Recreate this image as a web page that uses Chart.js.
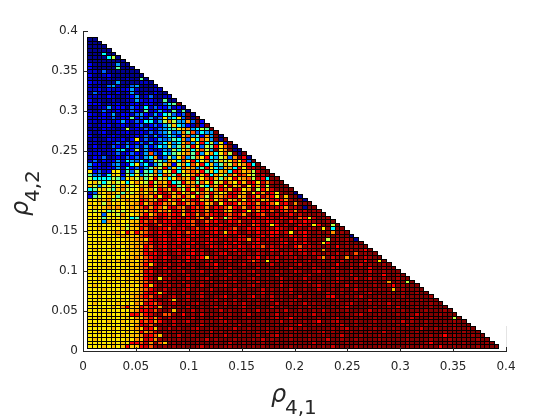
<!DOCTYPE html>
<html>
<head>
<meta charset="utf-8">
<script src="https://cdn.jsdelivr.net/npm/chart.js@4/dist/chart.umd.min.js"></script>
<style>
  html, body { margin: 0; background: #fff; }
  canvas { display: block; }
</style>
</head>
<body>
<canvas id="heat" width="560" height="420"></canvas>
<script>
// Ticks
const xTicks = [0, 0.05, 0.1, 0.15, 0.2, 0.25, 0.3, 0.35, 0.4];
const yTicks = [0, 0.05, 0.1, 0.15, 0.2, 0.25, 0.3, 0.35, 0.4];

// Cell grid
const cellStart = 0.0041;
const cellStepX = 0.004415;
const cellStepY = 0.00446;

// One colour level per character, 0 = dark blue ... f = dark red (jet)
const levelCodes = '0123456789abcdef';
const levelColors = ['#00008f', '#0000c4', '#0000ff', '#0060ff', '#00a0ff', '#00ffff', '#60ff9f', '#bfff40',
  '#ffe800', '#ffc000', '#ff9000', '#ff5000', '#ff0000', '#cf0000', '#a00000', '#800000'];

// Rows from the top of the triangle down, left to right
const rowLevels = [
  '00', '000', '0000', '00000', '000500', '0000570', '00000000', '200000400', '2000006000',
  '1103000000 0',
  '2001200000 00',
  '1010100010 060',
  '2110004000 0110',
  '1010341003 40001',
  '1120211124 100011',
  '0311102014 1010200',
  '1110210012 40130011',
  '2010010011 421210600',
  '2220112012 2022013 56f',
  '0011412203 2151322412 0',
  '1013112013 2061242161 60',
  '2102140221 3421425632 3f0',
  '1122131226 2314138458 3f0f',
  '1102112421 3255147a74 4a3f2',
  '1011201210 2302324695 421f2f',
  '0102110171 2132134568 9a4576f',
  '1012001120 1213134634 a6b3544f',
  '2001121011 2131423542 9b462a4f0',
  '0100211202 8131243465 a385b94f0f',
  '1101023131 2314135945 9b48c57382 f',
  '0201032142 3142354746 a6c8376c8b f0',
  '0111124512 7142124375 8a59b74f8a f00',
  '1120113123 214b315467 9a6c48a58b 7f0f',
  '0213012132 3145a13748 b46a8c5479 3afc0',
  '1302124154 3513764a85 b8c58a4697 8b8c3f',
  '4220134125 8351469a27 a5b8c5946a 7b8ac5f',
  '3121224152 3146a7c495 b9a46c8549 a5c8ddff',
  '8231288163 7265a487c5 8ab9c6959a 5cb9a7dff',
  '6341598275 8467a5b96c 78ac9c5a86 b9cb87edff',
  '7555576389 7a68c7958b a9c68bc96a 8c9ab7dc5f f',
  '8975797858 a87c7a9c56 c9a6b8c79d a8c9dc8dae ff',
  '9747868a97 8a9c8b9dc6 8bac75b9c8 d9ae8c9d7f fff',
  '5689769a78 8b9a7cb9da 7c8bd96acb 9dc8ae7c9d ffff',
  '1398a98697 9a8b9cdb9c 8ad7b9ca89 dcb9e8cadc 8eff0',
  '2678986a89 9ba9c8dc9a ca8cb7d9ab cd9aec9dbc 8e9ff0',
  '8899a789a9 8cba9dc9bc 8bdc9ac8bd 9ac8dbc9ad ccaeff0',
  '9897a89899 ac9bdcab9d cabdc9ae8c dc9bcdaecb 8dcfafff',
  '8989a9a89a 9bdacb9cdb aecbdaecdb 9cdaecbdce dcaedf0ff',
  '8788678789 9a9bcab9dc aecbdaecda 9dec8dacdb ecbdaedfee',
  '8883887a88 9ac9bdcbcd 9cdaebcdec bdcaeecbee dfecedfefe f',
  '8886888985 6cdbcecbdc ecdbae8cd7 bcedceddcd ecdeebc8df ee',
  '8884a89889 9cbdbecdce dcbeebdcee cdbeecdecd defcdecdef fef',
  '8898889879 abcedbdcde cdbeecdecd eecdebced8 cedfecde8c ff7f',
  '8898888979 9cbeedcbed cedbecdced dbeecdcede cdefcefdef 8f5ff',
  '888889a8c9 cabdecdedc ebdceedce9 dcefdecedc ced8fdcefe feafef',
  '8889889a99 9bceedcedc edcdecdedc eecdfedcec dfecdecefe fefeff0',
  '8888988899 aa9cedcdec dcedeecdee decdaecfde edefcedfef f7fefef0',
  '8898888989 9abcedcedc edceecdefc ecdfedceee edcfdecefe 8cfefefff',
  '8888898899 a9cbedcede dcedfecdec decdecdbed edefcbedee fefcfefeff',
  '8988889899 9acbdecedc edcedfedee dcedfedeec dfeeecdeef afefefefec f',
  '8888988889 9acdcedfed edcedffedc fedeefdefe fdedfedfde fefdfefbfe ff',
  '8898888899 a9bcdecdfe dcedc9edfe defedecfde dfeedfeefd afdefafefd eff',
  '8888989989 8abcdedfed fcedfedfee dfeedbdf8e dfeedfedfe efefdfefec fe8f',
  '8889888899 9ac9dfedfe dfeffdecfe ffedfeeffd feffedffef effcffefdf effef',
  '8888988889 9abdfecfed fedffeedfe dffeffdfef effdffefde ffdeffdfef cffeff',
  '8988888989 8adcefedfe dffedfefed feffedffef feffdeffed effdffefff dffefff',
  '8888898998 a9cdfedfef edfeffdffe dfeeffdfef dffeffedff effeffdfef effcffef',
  '8898889899 9acdf8edfe fdfeedffed feffedffef fdffefdfff effdeffdfe dffeffeff',
  '8888988898 9abdefdfef dfefefdffe edffefdfef fdfefffdfe ffedffeffe feffafef7f',
  '8988888989 8ac9dfedfe fdefdffeed ffefedffef fdfeffefed ffeffdfeff feffecfeff f',
  '8889888898 9abcefdfef edfeffdffe fdfefffdfe fefdffeffd ffefeffdfe ffeff9feff ff',
  '8888898989 9acdc9dfef dffedfeffe feffefedfe fefdfffeff fdffefeffe dfffeffeff eff',
  '8898888889 abcbedfedf edfedffeec ffefecfefd fefffdfeff fdcffefedf ffeffefeff fffe',
  '8888988989 9abcdfed9f edffefedfe fdffefeffd fefedffeff effdfffeff dfefffefef fefff',
  '8988889898 a9dcbdfedf efedffeffd fefdffefff dffeffdfef effefedfff efefdfffef fffeff',
  '8888898ac9 9cbcdafdfe fdffefedfe ffedfefffd fefffefdfe ffefedffff feffefdfff effefff',
  '8889888889 accdbefe9f efdfefffdf effeffdfef efdffeffef dffefeffff dfeffefeff ffefffef',
  '888898898c cacdefbbef cfefdfeffe effedfffef dfffefefdf effffefedf ffefffefef defffefff',
  '8898888898 a9bcadfdef efdfeffedf effefffefe dfecfefffe ffedffefff fefffffffd fffeffff7f',
  '8888988989 9cbcacefdf edffefefed feffefffff fdfeffefec ffedfffeff fefffefdfe ffefffffef f',
  '8988888898 acdbefefdf effedfffef efdfffefef effeecffef effedffeff efffffefdf ffefffefef ff',
  '8888898989 a9dc9efdfe ffedffeffe fdffefffef ffedffefff ffefedffef fefffeffff fdffefffef fef',
  '8898888898 9cabdfefef effeffdfef effeffefdf efffeffffe dfefffefff effdffefff efffffefff efff',
  '8888898989 9adcb9fefd ffefffeffd ffefffeffe dffefffeff efffdfffef ffefffffef fffefecfef ffeff',
  '8988888898 a9dcaefefe fffefdfeff fefffefdfe fffefffeff fdffeffeff ffefffffef fffefffeff fffeff',
  '888889898c cbdaeb9fef effefffeff dffefffeff efffefffdf effffeffef ffffefffef ffecfffeff effffef',
  '88898989c9 9cdbefefef effedfeffe effffefeff fffefffeff efdffffeff ffefffffef fefffcffef fffeffff'
];

// Flatten the rows into one scatter dataset per colour level
function buildDatasets() {
  const sets = levelColors.map((color, i) => ({
    label: levelCodes[i], data: [], color: color,
    pointRadius: 0, pointHitRadius: 0, showLine: false
  }));
  rowLevels.forEach((row, r) => {
    const codes = row.replace(/ /g, '');
    const y = cellStart + (rowLevels.length - 1 - r) * cellStepY;
    for (let c = 0; c < codes.length; c++) {
      sets[levelCodes.indexOf(codes[c])].data.push({ x: cellStart + c * cellStepX, y: y });
    }
  });
  return sets;
}

const axisColor = '#262626';

// Chart.js has no rectangle cell, so the scatter points get painted here through the scales
const cellPainter = {
  id: 'cellPainter',
  afterDatasetsDraw(chart) {
    const { ctx, scales } = chart;
    const rects = [];
    chart.data.datasets.forEach(ds => {
      ds.data.forEach(p => {
        const l = Math.round(scales.x.getPixelForValue(p.x));
        const r = Math.round(scales.x.getPixelForValue(p.x + cellStepX));
        const t = Math.round(scales.y.getPixelForValue(p.y + cellStepY));
        const b = Math.round(scales.y.getPixelForValue(p.y));
        rects.push({ l, r, t, b, color: ds.color });
      });
    });
    ctx.save();
    ctx.fillStyle = '#000';
    rects.forEach(c => ctx.fillRect(c.l, c.t, c.r - c.l + 1, c.b - c.t + 1));
    rects.forEach(c => {
      ctx.fillStyle = c.color;
      ctx.fillRect(c.l + 1, c.t + 1, c.r - c.l - 1, c.b - c.t - 1);
    });
    ctx.restore();
  }
};

// MATLAB style axes: left and bottom only, ticks pointing inward
const axisPainter = {
  id: 'axisPainter',
  afterDraw(chart) {
    const { ctx, scales, chartArea } = chart;
    const left = Math.round(chartArea.left), bottom = Math.round(chartArea.bottom);
    ctx.save();
    ctx.fillStyle = '#e4e4e4';
    ctx.fillRect(Math.round(scales.x.getPixelForValue(0.4)), Math.round(scales.y.getPixelForValue(0.031)), 1, 25);
    ctx.fillStyle = axisColor;
    ctx.fillRect(left, Math.round(chartArea.top), 1, bottom - chartArea.top + 1);
    ctx.fillRect(left, bottom, Math.round(chartArea.right) - left + 1, 1);
    xTicks.forEach(v => ctx.fillRect(Math.round(scales.x.getPixelForValue(v)), bottom - 4, 1, 4));
    yTicks.forEach(v => ctx.fillRect(left, Math.round(scales.y.getPixelForValue(v)), 5, 1));

    // axis titles, rho plus a subscript
    ctx.fillStyle = axisColor;
    ctx.textBaseline = 'alphabetic';
    ctx.textAlign = 'left';
    ctx.font = 'oblique 24px "DejaVu Sans"';
    ctx.fillText('ρ', 271, 402);
    ctx.font = '20px "DejaVu Sans"';
    ctx.fillText('4,1', 285, 414);

    ctx.rotate(-Math.PI / 2);
    ctx.font = 'oblique 24px "DejaVu Sans"';
    ctx.fillText('ρ', -216, 28);
    ctx.font = '20px "DejaVu Sans"';
    ctx.fillText('4,2', -202, 39);
    ctx.restore();
  }
};

function tickOptions(list) {
  return {
    type: 'linear', min: 0, max: 0.4,
    afterBuildTicks: scale => { scale.ticks = list.map(v => ({ value: v })); },
    grid: { display: false, drawTicks: false },
    border: { display: false },
    ticks: {
      autoSkip: false, maxRotation: 0, color: axisColor,
      font: { family: '"DejaVu Sans"', size: 12 },
      callback: v => String(+Number(v).toFixed(2))
    }
  };
}

const xScale = tickOptions(xTicks);
xScale.ticks.padding = 9;
xScale.afterFit = scale => { scale.height = 69; };
const yScale = tickOptions(yTicks);
yScale.ticks.padding = 5;
yScale.afterFit = scale => { scale.width = 83; };

new Chart(document.getElementById('heat').getContext('2d'), {
  type: 'scatter',
  data: { datasets: buildDatasets() },
  options: {
    responsive: false,
    animation: false,
    layout: { padding: { top: 31, right: 54, left: 0, bottom: 0 } },
    plugins: { legend: { display: false }, tooltip: { enabled: false } },
    scales: { x: xScale, y: yScale }
  },
  plugins: [cellPainter, axisPainter]
});
</script>
</body>
</html>
